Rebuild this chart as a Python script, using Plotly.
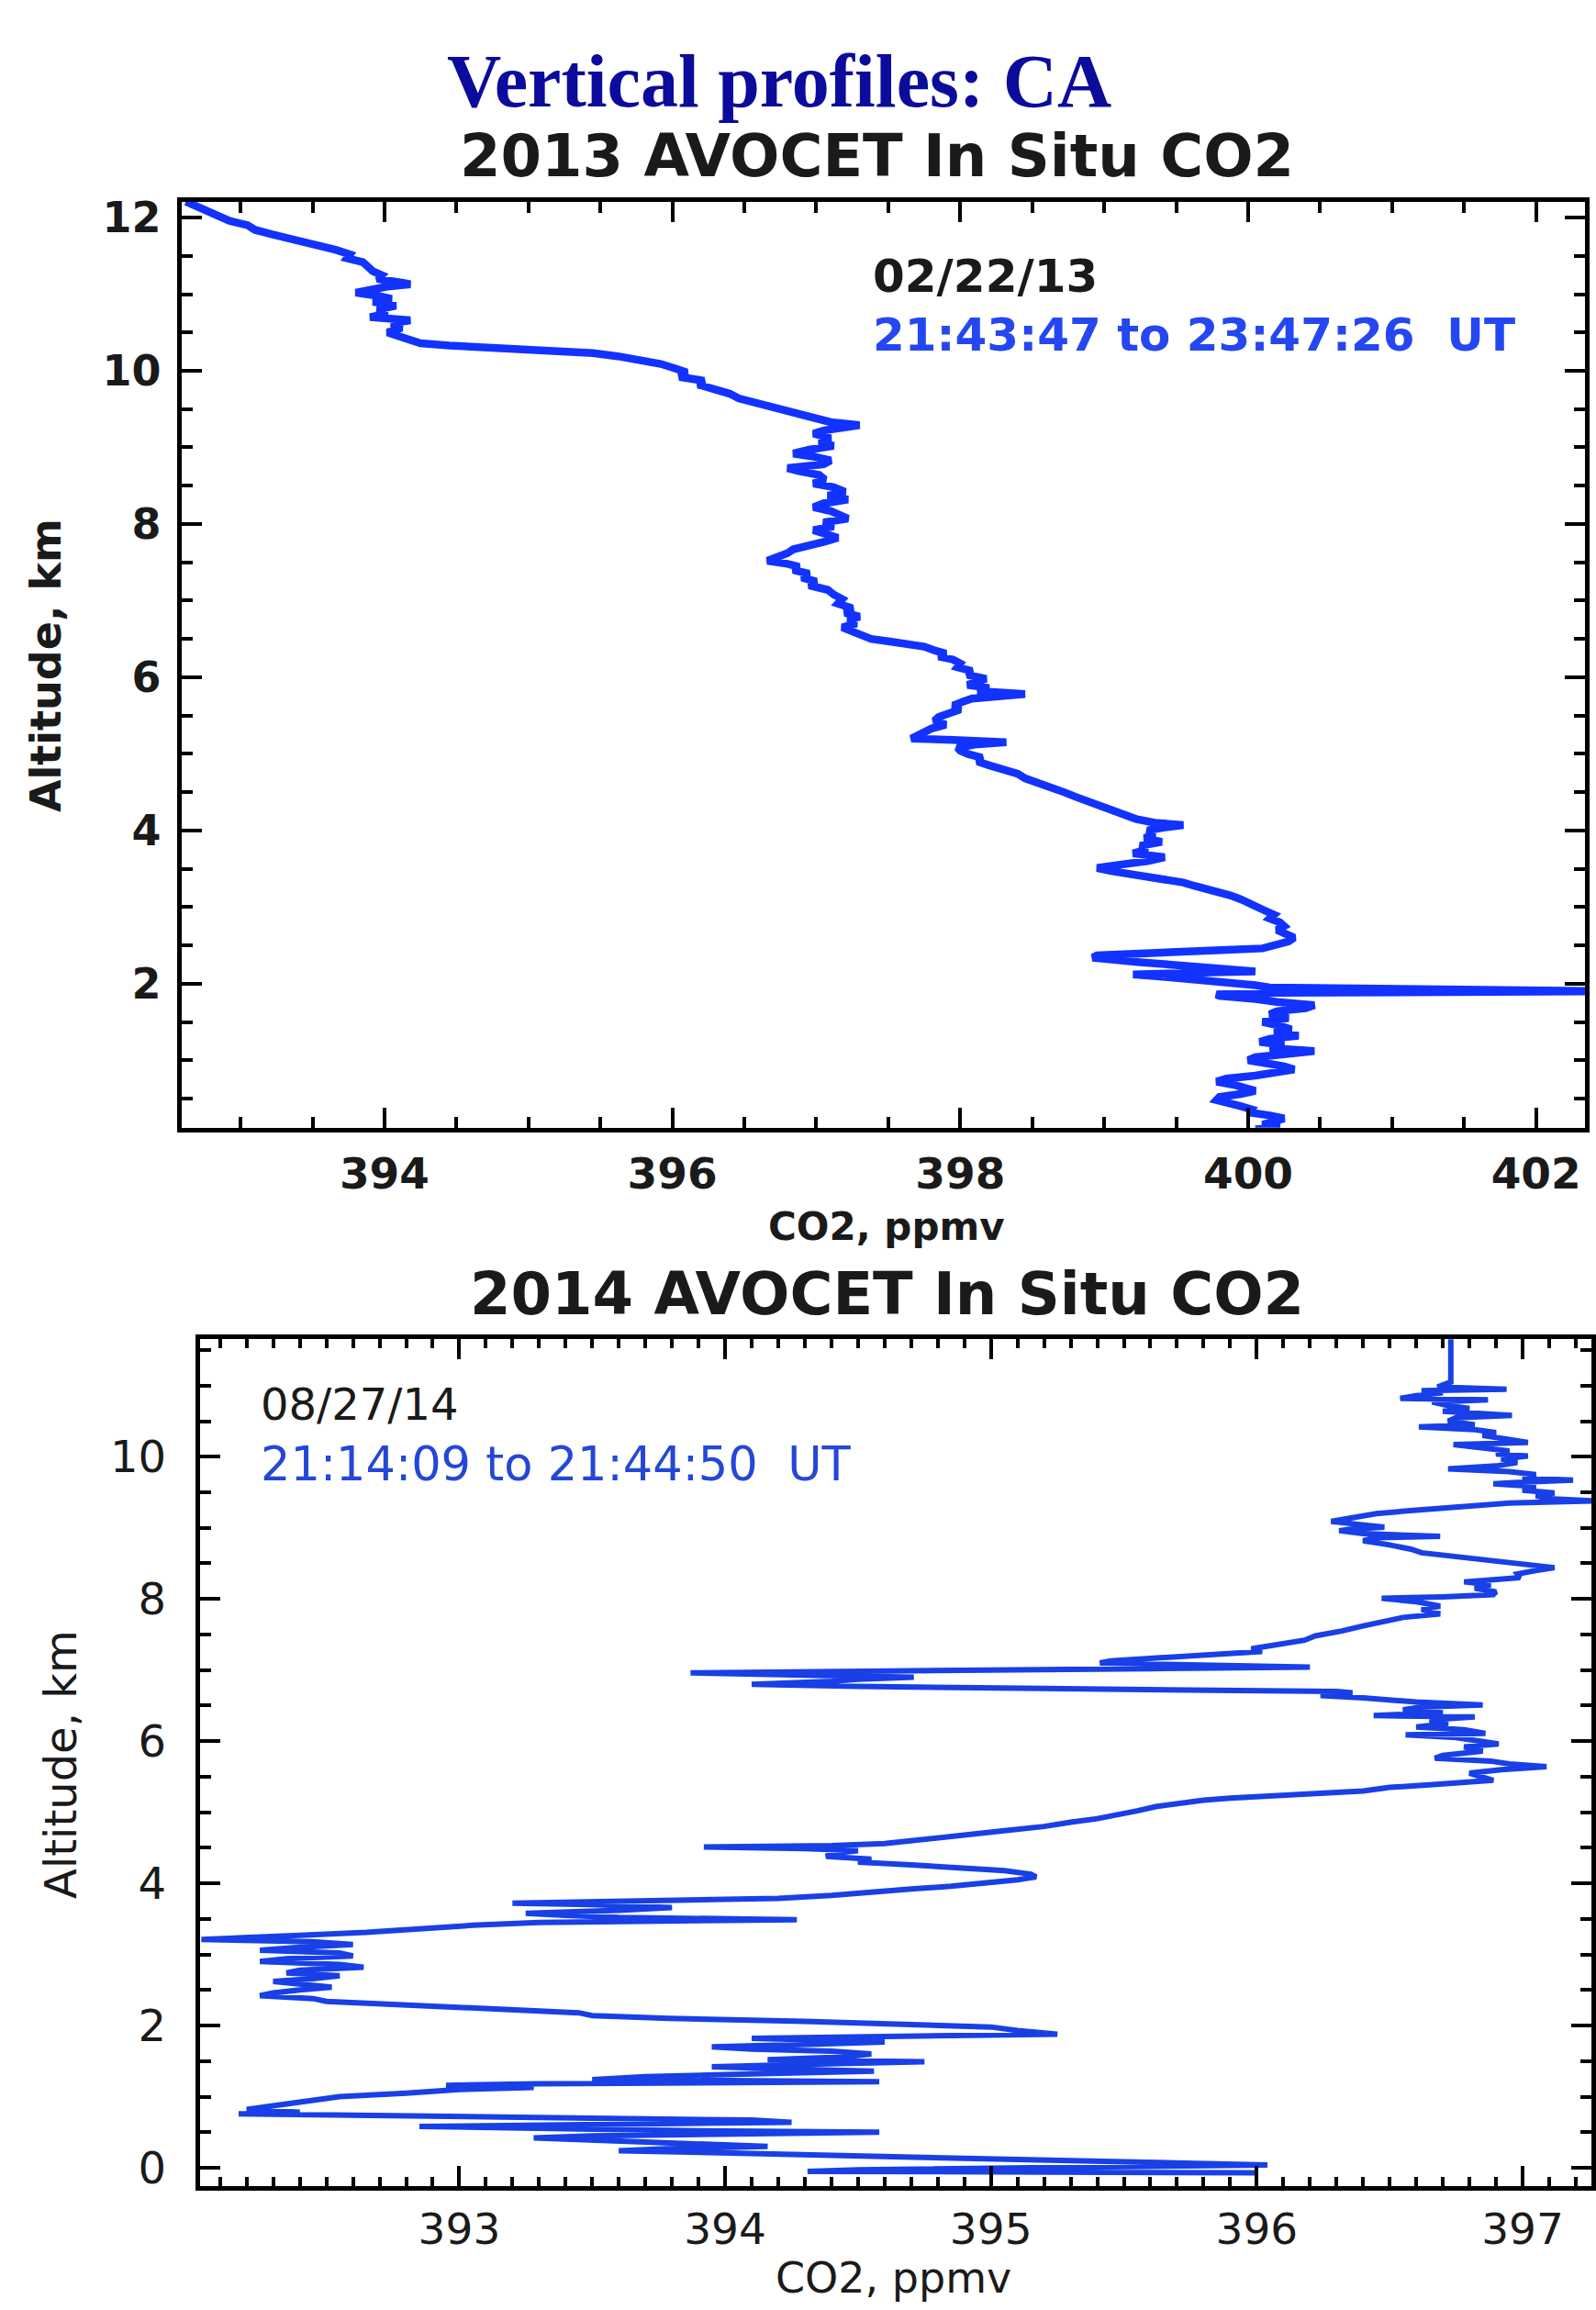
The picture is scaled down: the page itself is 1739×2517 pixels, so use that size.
import plotly.graph_objects as go

# ---------------- data: 2013 profile (altitude km, CO2 ppmv) ----------------
alt_2013 = [12.21, 12.15, 12.08, 12.02, 11.96, 11.90, 11.84, 11.78, 11.72, 11.66, 11.62, 11.58, 11.52, 11.47,
            11.42, 11.36, 11.30, 11.25, 11.20, 11.15, 11.13, 11.10, 11.06, 11.02, 10.98, 10.94, 10.90, 10.85,
            10.80, 10.75, 10.70, 10.66, 10.62, 10.56, 10.50, 10.45, 10.40, 10.36, 10.33, 10.31, 10.29, 10.26,
            10.23, 10.19, 10.14, 10.09, 10.03, 9.98, 9.92, 9.87, 9.82, 9.76, 9.70, 9.64, 9.58, 9.52, 9.47,
            9.42, 9.37, 9.33, 9.29, 9.26, 9.22, 9.18, 9.12, 9.07, 9.02, 8.97, 8.92, 8.88, 8.83, 8.78, 8.73,
            8.69, 8.64, 8.58, 8.53, 8.48, 8.42, 8.37, 8.32, 8.27, 8.22, 8.17, 8.12, 8.07, 8.02, 7.97, 7.92,
            7.87, 7.82, 7.77, 7.72, 7.67, 7.62, 7.57, 7.52, 7.48, 7.44, 7.40, 7.35, 7.30, 7.25, 7.20, 7.14,
            7.08, 7.02, 6.96, 6.90, 6.84, 6.79, 6.74, 6.70, 6.65, 6.60, 6.55, 6.50, 6.47, 6.44, 6.40, 6.35,
            6.31, 6.27, 6.23, 6.18, 6.13, 6.08, 6.03, 5.98, 5.94, 5.90, 5.86, 5.82, 5.78, 5.75, 5.72, 5.68,
            5.63, 5.58, 5.53, 5.48, 5.43, 5.38, 5.33, 5.28, 5.23, 5.20, 5.18, 5.15, 5.12, 5.08, 5.04, 5.00,
            4.95, 4.90, 4.85, 4.80, 4.74, 4.68, 4.62, 4.56, 4.50, 4.44, 4.38, 4.32, 4.26, 4.20, 4.15, 4.10,
            4.07, 4.04, 4.00, 3.95, 3.90, 3.85, 3.80, 3.75, 3.70, 3.65, 3.60, 3.55, 3.51, 3.47, 3.43, 3.40,
            3.36, 3.32, 3.28, 3.24, 3.20, 3.15, 3.10, 3.05, 3.00, 2.95, 2.90, 2.85, 2.80, 2.75, 2.70, 2.65,
            2.60, 2.55, 2.50, 2.46, 2.44, 2.42, 2.40, 2.37, 2.34, 2.31, 2.28, 2.25, 2.22, 2.19, 2.16, 2.14,
            2.12, 2.10, 2.07, 2.04, 2.01, 1.98, 1.95, 1.92, 1.90, 1.88, 1.86, 1.84, 1.80, 1.76, 1.72, 1.68,
            1.64, 1.60, 1.55, 1.50, 1.45, 1.40, 1.36, 1.32, 1.28, 1.24, 1.20, 1.16, 1.12, 1.08, 1.04, 1.00,
            0.96, 0.92, 0.88, 0.84, 0.80, 0.76, 0.72, 0.68, 0.64, 0.60, 0.56, 0.52, 0.48, 0.44, 0.40, 0.36,
            0.32, 0.28, 0.24, 0.20, 0.16, 0.12, 0.10]
co2_2013 = [392.62, 392.70, 392.78, 392.85, 392.92, 393.05, 393.10, 393.22, 393.35, 393.50, 393.62, 393.66,
            393.76, 393.74, 393.85, 393.88, 393.92, 393.98, 393.95, 394.12, 394.18, 394.02, 393.92, 393.80,
            393.95, 394.05, 393.92, 394.08, 393.95, 394.02, 393.90, 394.18, 394.05, 394.12, 394.02, 394.10,
            394.22, 394.25, 394.45, 394.70, 394.95, 395.25, 395.45, 395.62, 395.80, 395.92, 396.02, 396.10,
            396.05, 396.22, 396.18, 396.30, 396.40, 396.46, 396.58, 396.72, 396.82, 396.92, 397.02, 397.10,
            397.30, 397.18, 397.05, 396.98, 397.10, 397.02, 397.12, 396.95, 396.84, 396.98, 397.10, 397.05,
            396.80, 396.88, 397.02, 397.06, 396.98, 397.12, 397.20, 397.08, 397.22, 397.05, 396.98, 397.10,
            397.18, 397.22, 397.05, 397.12, 396.98, 397.08, 397.15, 397.06, 396.92, 396.84, 396.80, 396.72,
            396.66, 396.80, 396.88, 396.84, 396.95, 396.90, 397.00, 396.95, 397.08, 397.12, 397.18, 397.15,
            397.25, 397.20, 397.30, 397.22, 397.28, 397.18, 397.25, 397.32, 397.38, 397.50, 397.65, 397.75,
            397.82, 397.90, 397.85, 397.95, 398.00, 397.98, 398.08, 398.05, 398.18, 398.10, 398.05, 398.20,
            398.12, 398.45, 398.30, 398.08, 398.02, 397.95, 398.00, 397.90, 397.85, 397.82, 397.90, 397.80,
            397.75, 397.68, 397.66, 397.95, 398.32, 398.10, 397.98, 398.00, 398.05, 398.15, 398.12, 398.20,
            398.28, 398.40, 398.45, 398.55, 398.62, 398.72, 398.80, 398.88, 398.98, 399.05, 399.15, 399.22,
            399.35, 399.55, 399.42, 399.30, 399.35, 399.28, 399.40, 399.25, 399.30, 399.20, 399.42, 399.30,
            399.10, 398.95, 399.05, 399.20, 399.28, 399.40, 399.55, 399.62, 399.72, 399.78, 399.88, 399.95,
            400.00, 400.05, 400.12, 400.18, 400.15, 400.22, 400.25, 400.20, 400.28, 400.32, 400.28, 400.20,
            400.10, 399.85, 399.50, 399.20, 398.95, 398.92, 399.05, 399.25, 399.45, 399.70, 399.85, 400.05,
            399.60, 399.20, 399.35, 399.55, 399.75, 399.92, 400.05, 400.15, 401.20, 402.50, 400.20, 399.78,
            399.80, 400.05, 400.20, 400.46, 400.40, 400.20, 400.15, 400.28, 400.10, 400.22, 400.30, 400.18,
            400.35, 400.15, 400.08, 400.25, 400.15, 400.46, 400.25, 400.05, 400.00, 400.15, 400.25, 400.32,
            400.20, 400.05, 399.85, 399.78, 399.90, 400.00, 400.05, 399.95, 399.80, 399.78, 399.90, 399.95,
            400.02, 400.00, 400.15, 400.25, 400.18, 400.10, 400.22, 400.05]

# ---------------- data: 2014 profile (altitude km, CO2 ppmv) ----------------
alt_2014 = [11.66, 11.30, 11.05, 10.98, 10.95, 10.93, 10.90, 10.86, 10.82, 10.80, 10.77, 10.72, 10.68, 10.64,
            10.58, 10.55, 10.50, 10.45, 10.42, 10.38, 10.34, 10.30, 10.25, 10.20, 10.17, 10.13, 10.08, 10.04,
            10.01, 9.97, 9.92, 9.87, 9.83, 9.79, 9.75, 9.70, 9.67, 9.64, 9.62, 9.58, 9.53, 9.49, 9.45, 9.41,
            9.38, 9.35, 9.32, 9.29, 9.25, 9.20, 9.14, 9.09, 9.05, 9.01, 8.98, 8.96, 8.92, 8.88, 8.86, 8.82,
            8.76, 8.70, 8.65, 8.60, 8.56, 8.52, 8.48, 8.44, 8.40, 8.35, 8.30, 8.26, 8.24, 8.20, 8.15, 8.10,
            8.06, 8.03, 8.01, 7.96, 7.90, 7.85, 7.79, 7.74, 7.69, 7.62, 7.55, 7.48, 7.42, 7.35, 7.30, 7.26,
            7.24, 7.21, 7.19, 7.16, 7.13, 7.10, 7.08, 7.06, 7.04, 7.02, 7.00, 6.98, 6.96, 6.93, 6.90, 6.87,
            6.84, 6.80, 6.77, 6.74, 6.72, 6.70, 6.68, 6.64, 6.61, 6.58, 6.55, 6.51, 6.48, 6.44, 6.40, 6.36,
            6.34, 6.30, 6.25, 6.20, 6.16, 6.11, 6.09, 6.05, 6.01, 5.96, 5.92, 5.86, 5.80, 5.76, 5.72, 5.68,
            5.64, 5.60, 5.55, 5.50, 5.45, 5.40, 5.35, 5.30, 5.26, 5.23, 5.20, 5.17, 5.12, 5.08, 5.02, 4.96,
            4.91, 4.86, 4.80, 4.74, 4.68, 4.62, 4.56, 4.53, 4.51, 4.49, 4.46, 4.42, 4.38, 4.34, 4.30, 4.26,
            4.22, 4.18, 4.13, 4.09, 4.05, 4.01, 3.96, 3.92, 3.87, 3.83, 3.79, 3.76, 3.74, 3.72, 3.70, 3.66,
            3.62, 3.58, 3.55, 3.52, 3.49, 3.47, 3.45, 3.41, 3.36, 3.31, 3.27, 3.24, 3.21, 3.18, 3.14, 3.10,
            3.06, 3.02, 2.98, 2.94, 2.90, 2.86, 2.82, 2.78, 2.74, 2.70, 2.66, 2.62, 2.58, 2.54, 2.50, 2.46,
            2.42, 2.38, 2.34, 2.30, 2.26, 2.22, 2.18, 2.14, 2.10, 2.06, 2.02, 1.98, 1.93, 1.88, 1.86, 1.84,
            1.82, 1.80, 1.77, 1.74, 1.70, 1.67, 1.64, 1.60, 1.56, 1.52, 1.49, 1.46, 1.42, 1.38, 1.36, 1.32,
            1.28, 1.24, 1.21, 1.18, 1.16, 1.13, 1.10, 1.05, 1.00, 0.95, 0.90, 0.86, 0.82, 0.78, 0.76, 0.74,
            0.72, 0.70, 0.67, 0.64, 0.61, 0.58, 0.55, 0.52, 0.50, 0.48, 0.45, 0.42, 0.38, 0.34, 0.30, 0.27,
            0.24, 0.20, 0.16, 0.12, 0.09, 0.06, 0.04, 0.02, 0.00, -0.03, -0.05, -0.06, -0.07]
co2_2014 = [396.73, 396.73, 396.73, 396.68, 396.94, 396.62, 396.70, 396.60, 396.54, 396.87, 396.66, 396.72,
            396.80, 396.70, 396.96, 396.75, 396.72, 396.82, 396.61, 396.82, 396.90, 396.85, 396.95, 397.02,
            396.74, 396.85, 396.95, 396.90, 397.02, 396.92, 396.98, 396.90, 396.72, 396.95, 397.05, 397.00,
            397.19, 396.98, 396.89, 397.05, 397.00, 397.12, 397.05, 397.10, 397.27, 396.95, 396.82, 396.72,
            396.60, 396.45, 396.35, 396.28, 396.38, 396.48, 396.35, 396.31, 396.40, 396.69, 396.45, 396.40,
            396.50, 396.58, 396.62, 396.75, 396.83, 396.95, 397.05, 397.12, 397.05, 396.98, 396.99, 396.85,
            396.78, 396.88, 396.82, 396.90, 396.89, 396.70, 396.47, 396.60, 396.69, 396.62, 396.69, 396.55,
            396.48, 396.40, 396.32, 396.22, 396.18, 396.05, 395.98, 396.02, 395.94, 395.80, 395.70, 395.60,
            395.45, 395.41, 395.70, 396.02, 396.20, 395.60, 394.80, 394.20, 393.87, 394.30, 394.71, 394.50,
            394.40, 394.10, 394.50, 395.20, 395.90, 396.30, 396.36, 396.24, 396.40, 396.48, 396.60, 396.85,
            396.62, 396.55, 396.70, 396.44, 396.82, 396.65, 396.72, 396.60, 396.78, 396.86, 396.56, 396.75,
            396.82, 396.91, 396.78, 396.85, 396.70, 396.67, 396.88, 396.95, 397.09, 396.92, 396.80, 396.85,
            396.89, 396.70, 396.50, 396.40, 396.20, 396.00, 395.90, 395.80, 395.70, 395.62, 395.55, 395.48,
            395.40, 395.30, 395.20, 395.05, 394.90, 394.75, 394.60, 394.40, 393.92, 394.30, 394.50, 394.40,
            394.38, 394.55, 394.50, 394.70, 394.85, 395.05, 395.15, 395.17, 395.10, 395.00, 394.85, 394.70,
            394.55, 394.40, 394.20, 393.85, 393.40, 393.20, 393.50, 393.80, 393.60, 393.25, 393.40, 393.60,
            394.27, 393.70, 393.30, 393.05, 392.85, 392.65, 392.40, 392.20, 392.03, 392.45, 392.60, 392.40,
            392.25, 392.55, 392.60, 392.35, 392.25, 392.55, 392.64, 392.40, 392.35, 392.55, 392.45, 392.30,
            392.40, 392.52, 392.40, 392.30, 392.25, 392.45, 392.50, 392.75, 393.00, 393.30, 393.45, 393.50,
            393.79, 394.30, 394.70, 395.00, 395.10, 395.25, 394.85, 394.40, 394.10, 394.30, 394.60, 394.35,
            393.95, 394.10, 394.40, 394.55, 394.45, 394.16, 394.75, 394.35, 393.95, 394.30, 394.56, 394.10,
            393.70, 393.50, 394.58, 393.30, 392.95, 393.28, 393.00, 392.80, 392.55, 392.45, 392.35, 392.30,
            392.20, 392.40, 392.17, 392.60, 393.10, 393.70, 394.10, 394.25, 393.40, 392.85, 393.40, 393.90,
            394.58, 394.00, 393.50, 393.28, 393.60, 393.90, 394.16, 393.80, 393.60, 394.10, 394.60, 395.20,
            395.41, 395.80, 396.04, 395.60, 395.00, 394.50, 394.31, 395.50, 396.00]

# ---------------- labels ----------------
main_title = "Vertical profiles: CA"
title_2013 = "2013 AVOCET In Situ CO2"
title_2014 = "2014 AVOCET In Situ CO2"
date_2013 = "02/22/13"
time_2013 = "21:43:47 to 23:47:26  UT"
date_2014 = "08/27/14"
time_2014 = "21:14:09 to 21:44:50  UT"
x_title = "CO2, ppmv"
y_title = "Altitude, km"

W, H = 1739, 2517
FONT = "DejaVu Sans"


def px(x):
    return x / W


def py(y):
    return 1 - y / H


fig = go.Figure()
fig.add_trace(go.Scatter(x=co2_2013, y=alt_2013, mode="lines", xaxis="x", yaxis="y",
                         line=dict(color="#1232ff", width=8.5), showlegend=False, hoverinfo="skip"))
fig.add_trace(go.Scatter(x=co2_2014, y=alt_2014, mode="lines", xaxis="x2", yaxis="y2",
                         line=dict(color="#1840e6", width=6), showlegend=False, hoverinfo="skip"))

axis_common = dict(showline=True, linewidth=5, linecolor="black", mirror="ticks", ticks="inside",
                   tickwidth=4, tickcolor="black", showgrid=False, zeroline=False)

fig.update_layout(
    width=W, height=H, margin=dict(l=0, r=0, t=0, b=0),
    paper_bgcolor="white", plot_bgcolor="white",
    xaxis=dict(domain=[px(198), px(1729)], range=[392.59, 402.34], anchor="y",
               tick0=394, dtick=2, ticklen=22, ticklabelstandoff=5,
               minor=dict(dtick=0.5, ticklen=12, tickwidth=4, tickcolor="black", ticks="inside"),
               tickfont=dict(family=FONT, size=47, color="#1a1a1a", weight="bold"), **axis_common),
    yaxis=dict(domain=[py(1228), py(212)], range=[0.12, 12.21], anchor="x",
               tick0=0, dtick=2, ticklen=22, ticklabelstandoff=8,
               minor=dict(dtick=0.5, ticklen=12, tickwidth=4, tickcolor="black", ticks="inside"),
               tickfont=dict(family=FONT, size=46, color="#1a1a1a", weight="bold"), **axis_common),
    xaxis2=dict(domain=[px(218), px(1736)], range=[392.024, 397.259], anchor="y2",
                tick0=393, dtick=1, ticklen=22, ticklabelstandoff=2,
                minor=dict(dtick=0.1, ticklen=10, tickwidth=4, tickcolor="black", ticks="inside"),
                tickfont=dict(family=FONT, size=47, color="#1a1a1a"), **axis_common),
    yaxis2=dict(domain=[py(2389), py(1460)], range=[-0.256, 11.654], anchor="x2",
                tick0=0, dtick=2, ticklen=22, ticklabelstandoff=22,
                minor=dict(dtick=0.5, ticklen=12, tickwidth=4, tickcolor="black", ticks="inside"),
                tickfont=dict(family=FONT, size=48, color="#1a1a1a"), **axis_common),
)

ann = []
ann.append(dict(text=f"<b>{main_title}</b>", x=px(850), y=py(80), xanchor="center", yanchor="middle",
                font=dict(family="Liberation Serif", size=82, color="#0b0b9c")))
ann.append(dict(text=f"<b>{title_2013}</b>", x=px(957), y=py(162), xanchor="center", yanchor="middle",
                font=dict(family=FONT, size=64, color="#1a1a1a")))
ann.append(dict(text=f"<b>{title_2014}</b>", x=px(968), y=py(1411), xanchor="center", yanchor="middle",
                font=dict(family=FONT, size=64, color="#1a1a1a")))
ann.append(dict(text=f"<b>{date_2013}</b>", x=px(950), y=py(294), xanchor="left", yanchor="middle",
                font=dict(family=FONT, size=50, color="#1a1a1a")))
ann.append(dict(text=f"<b>{time_2013}</b>", x=px(950), y=py(358), xanchor="left", yanchor="middle",
                font=dict(family=FONT, size=50, color="#2447f2")))
ann.append(dict(text=date_2014, x=px(282), y=py(1531), xanchor="left", yanchor="middle",
                font=dict(family=FONT, size=48, color="#1a1a1a")))
ann.append(dict(text=time_2014, x=px(282), y=py(1597), xanchor="left", yanchor="middle",
                font=dict(family=FONT, size=51, color="#2447d8")))
ann.append(dict(text=f"<b>{x_title}</b>", x=px(967), y=py(1337), xanchor="center", yanchor="middle",
                font=dict(family=FONT, size=42, color="#1a1a1a")))
ann.append(dict(text=x_title, x=px(975), y=py(2490), xanchor="center", yanchor="middle",
                font=dict(family=FONT, size=46, color="#1a1a1a")))
ann.append(dict(text=f"<b>{y_title}</b>", x=px(50), y=py(721), xanchor="center", yanchor="middle",
                textangle=-90, font=dict(family=FONT, size=46, color="#1a1a1a")))
ann.append(dict(text=y_title, x=px(66), y=py(1926), xanchor="center", yanchor="middle",
                textangle=-90, font=dict(family=FONT, size=48, color="#1a1a1a")))
for a in ann:
    a.update(xref="paper", yref="paper", showarrow=False)
fig.update_layout(annotations=ann)

fig.write_html("out.html")
